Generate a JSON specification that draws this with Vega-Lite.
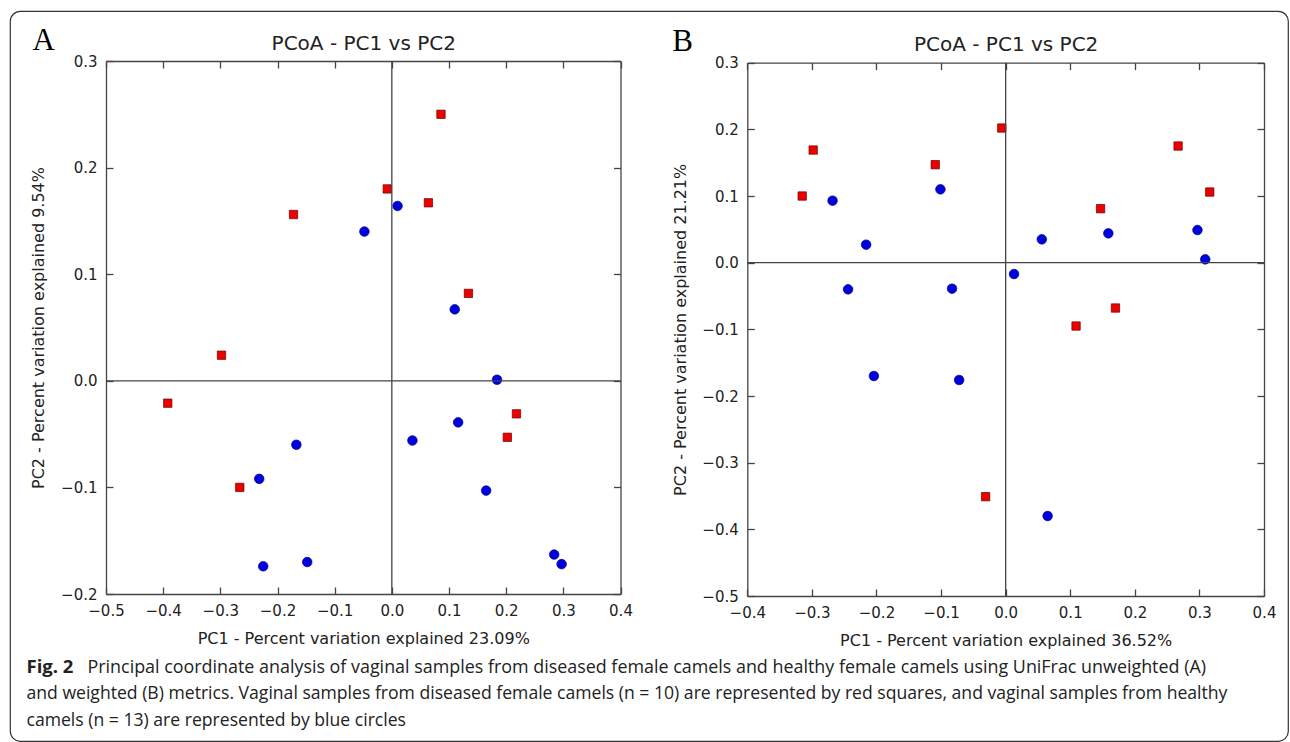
{
  "$schema": "https://vega.github.io/schema/vega-lite/v6.json",
  "width": 1278,
  "height": 730,
  "autosize": {"type": "none"},
  "padding": {"left": 10, "top": 11, "right": 2, "bottom": 1},
  "background": "white",
  "config": {
    "view": {"stroke": "#333", "strokeWidth": 1.2, "cornerRadius": 10},
    "axis": {
      "grid": false, "domainColor": "#444", "domainWidth": 1.3, "tickColor": "#444", "tickWidth": 1.3, "tickSize": -7,
      "labelFont": "DejaVu Sans", "labelFontSize": 15, "labelColor": "#222", "labelFlush": false, "labelOverlap": false,
      "titleFont": "DejaVu Sans", "titleFontSize": 16, "titleFontWeight": "normal", "titleColor": "#222", "titleLimit": 1400
    }
  },
  "datasets": {
    "A": [
      {"pc1": 0.086, "pc2": 0.250, "group": "diseased"},
      {"pc1": -0.008, "pc2": 0.180, "group": "diseased"},
      {"pc1": 0.064, "pc2": 0.167, "group": "diseased"},
      {"pc1": -0.172, "pc2": 0.156, "group": "diseased"},
      {"pc1": 0.134, "pc2": 0.082, "group": "diseased"},
      {"pc1": -0.298, "pc2": 0.024, "group": "diseased"},
      {"pc1": -0.392, "pc2": -0.021, "group": "diseased"},
      {"pc1": -0.266, "pc2": -0.100, "group": "diseased"},
      {"pc1": 0.218, "pc2": -0.031, "group": "diseased"},
      {"pc1": 0.202, "pc2": -0.053, "group": "diseased"},
      {"pc1": 0.010, "pc2": 0.164, "group": "healthy"},
      {"pc1": -0.048, "pc2": 0.140, "group": "healthy"},
      {"pc1": 0.110, "pc2": 0.067, "group": "healthy"},
      {"pc1": 0.184, "pc2": 0.001, "group": "healthy"},
      {"pc1": 0.116, "pc2": -0.039, "group": "healthy"},
      {"pc1": 0.036, "pc2": -0.056, "group": "healthy"},
      {"pc1": -0.167, "pc2": -0.060, "group": "healthy"},
      {"pc1": -0.232, "pc2": -0.092, "group": "healthy"},
      {"pc1": 0.165, "pc2": -0.103, "group": "healthy"},
      {"pc1": -0.225, "pc2": -0.174, "group": "healthy"},
      {"pc1": -0.148, "pc2": -0.170, "group": "healthy"},
      {"pc1": 0.284, "pc2": -0.163, "group": "healthy"},
      {"pc1": 0.297, "pc2": -0.172, "group": "healthy"}
    ],
    "B": [
      {"pc1": -0.006, "pc2": 0.202, "group": "diseased"},
      {"pc1": -0.298, "pc2": 0.169, "group": "diseased"},
      {"pc1": -0.315, "pc2": 0.100, "group": "diseased"},
      {"pc1": -0.109, "pc2": 0.147, "group": "diseased"},
      {"pc1": 0.267, "pc2": 0.175, "group": "diseased"},
      {"pc1": 0.316, "pc2": 0.106, "group": "diseased"},
      {"pc1": 0.147, "pc2": 0.081, "group": "diseased"},
      {"pc1": 0.170, "pc2": -0.068, "group": "diseased"},
      {"pc1": 0.109, "pc2": -0.095, "group": "diseased"},
      {"pc1": -0.031, "pc2": -0.351, "group": "diseased"},
      {"pc1": -0.268, "pc2": 0.093, "group": "healthy"},
      {"pc1": -0.216, "pc2": 0.027, "group": "healthy"},
      {"pc1": -0.244, "pc2": -0.040, "group": "healthy"},
      {"pc1": -0.101, "pc2": 0.110, "group": "healthy"},
      {"pc1": -0.083, "pc2": -0.039, "group": "healthy"},
      {"pc1": 0.013, "pc2": -0.017, "group": "healthy"},
      {"pc1": 0.056, "pc2": 0.035, "group": "healthy"},
      {"pc1": 0.159, "pc2": 0.044, "group": "healthy"},
      {"pc1": 0.297, "pc2": 0.049, "group": "healthy"},
      {"pc1": 0.309, "pc2": 0.005, "group": "healthy"},
      {"pc1": -0.204, "pc2": -0.170, "group": "healthy"},
      {"pc1": -0.072, "pc2": -0.176, "group": "healthy"},
      {"pc1": 0.065, "pc2": -0.380, "group": "healthy"}
    ]
  },
  "layer": [
    {
      "data": {"name": "A"},
      "layer": [
        {
          "mark": {"type": "point", "filled": true, "strokeWidth": 0.7, "opacity": 1},
          "encoding": {
            "x": {"field": "pc1", "type": "quantitative",
              "scale": {"domain": [-0.5, 0.4], "range": [96, 610.5], "nice": false, "zero": false},
              "axis": {"orient": "bottom", "offset": -147, "values": [-0.5, -0.4, -0.3, -0.2, -0.1, 0, 0.1, 0.2, 0.3, 0.4], "format": ".1f", "labelPadding": 16.6,
                "title": "PC1 - Percent variation explained 23.09%", "titleX": 353.25, "titleY": 49.5, "titleBaseline": "alphabetic"}},
            "y": {"field": "pc2", "type": "quantitative",
              "scale": {"domain": [-0.2, 0.3], "range": [583, 50], "nice": false, "zero": false},
              "axis": {"orient": "left", "offset": -96, "values": [-0.2, -0.1, 0, 0.1, 0.2, 0.3], "format": ".1f", "labelPadding": 16,
                "title": "PC2 - Percent variation explained 9.54%", "titleX": -62.5, "titleY": 316.5, "titleAngle": 270, "titleBaseline": "alphabetic"}},
            "shape": {"field": "group", "type": "nominal", "scale": {"domain": ["diseased", "healthy"], "range": ["square", "circle"]}, "legend": null},
            "fill": {"field": "group", "type": "nominal", "scale": {"domain": ["diseased", "healthy"], "range": ["#ee0000", "#0000dd"]}, "legend": null},
            "stroke": {"field": "group", "type": "nominal", "scale": {"domain": ["diseased", "healthy"], "range": ["#660000", "#000090"]}, "legend": null},
            "size": {"field": "group", "type": "nominal", "scale": {"domain": ["diseased", "healthy"], "range": [70, 92]}, "legend": null}
          }
        },
        {
          "data": {"values": [{}]},
          "mark": {"type": "rule", "color": "#444", "strokeWidth": 1.3},
          "encoding": {
            "x": {"datum": 0, "type": "quantitative",
              "axis": {"orient": "top", "offset": -50, "values": [-0.5, -0.4, -0.3, -0.2, -0.1, 0, 0.1, 0.2, 0.3, 0.4], "labels": false,
                "title": "PCoA - PC1 vs PC2", "titleFontSize": 20, "titleX": 353.25, "titleY": -12, "titleBaseline": "alphabetic"}},
            "y": {"datum": -0.2, "type": "quantitative",
              "axis": {"orient": "right", "offset": -667.5, "values": [-0.2, -0.1, 0, 0.1, 0.2, 0.3], "labels": false,
                "title": "A", "titleFont": "Liberation Serif", "titleFontSize": 31, "titleColor": "#000", "titleAngle": 0, "titleAlign": "left",
                "titleBaseline": "alphabetic", "titleX": -588.5, "titleY": 38}},
            "y2": {"datum": 0.3}
          }
        },
        {
          "data": {"values": [{}]},
          "mark": {"type": "rule", "color": "#444", "strokeWidth": 1.3},
          "encoding": {
            "y": {"datum": 0, "type": "quantitative",
              "axis": {"orient": "left", "offset": 0, "domain": false, "ticks": false, "labels": false,
                "title": "Fig. 2", "titleFont": "Open Sans", "titleFontSize": 18.5, "titleFontWeight": "bold", "titleColor": "#222",
                "titleAngle": 0, "titleAlign": "left", "titleBaseline": "alphabetic", "titleX": 16, "titleY": 661}},
            "x": {"datum": -0.5, "type": "quantitative",
              "axis": {"orient": "bottom", "offset": 0, "domain": false, "ticks": false, "labels": false,
                "title": "Principal coordinate analysis of vaginal samples from diseased female camels and healthy female camels using UniFrac unweighted (A)",
                "titleFont": "Open Sans", "titleFontSize": 17.9, "titleColor": "#222",
                "titleAlign": "left", "titleBaseline": "alphabetic", "titleX": 77, "titleY": -69}},
            "x2": {"datum": 0.4}
          }
        }
      ],
      "resolve": {"axis": {"x": "independent", "y": "independent"}}
    },
    {
      "data": {"name": "B"},
      "layer": [
        {
          "mark": {"type": "point", "filled": true, "strokeWidth": 0.7, "opacity": 1},
          "encoding": {
            "x": {"field": "pc1", "type": "quantitative",
              "scale": {"domain": [-0.4, 0.4], "range": [737.3, 1254], "nice": false, "zero": false},
              "axis": {"orient": "bottom", "offset": -145, "values": [-0.4, -0.3, -0.2, -0.1, 0, 0.1, 0.2, 0.3, 0.4], "format": ".1f", "labelPadding": 16.6,
                "title": "PC1 - Percent variation explained 36.52%", "titleX": 995.65, "titleY": 49, "titleBaseline": "alphabetic"}},
            "y": {"field": "pc2", "type": "quantitative",
              "scale": {"domain": [-0.5, 0.3], "range": [585, 51.7], "nice": false, "zero": false},
              "axis": {"orient": "left", "offset": -737.3, "values": [-0.5, -0.4, -0.3, -0.2, -0.1, 0, 0.1, 0.2, 0.3], "format": ".1f", "labelPadding": 16,
                "title": "PC2 - Percent variation explained 21.21%", "titleX": -62.3, "titleY": 318.35, "titleAngle": 270, "titleBaseline": "alphabetic"}},
            "shape": {"field": "group", "type": "nominal", "scale": {"domain": ["diseased", "healthy"], "range": ["square", "circle"]}, "legend": null},
            "fill": {"field": "group", "type": "nominal", "scale": {"domain": ["diseased", "healthy"], "range": ["#ee0000", "#0000dd"]}, "legend": null},
            "stroke": {"field": "group", "type": "nominal", "scale": {"domain": ["diseased", "healthy"], "range": ["#660000", "#000090"]}, "legend": null},
            "size": {"field": "group", "type": "nominal", "scale": {"domain": ["diseased", "healthy"], "range": [70, 92]}, "legend": null}
          }
        },
        {
          "data": {"values": [{}]},
          "mark": {"type": "rule", "color": "#444", "strokeWidth": 1.3},
          "encoding": {
            "x": {"datum": 0, "type": "quantitative",
              "axis": {"orient": "top", "offset": -51.7, "values": [-0.4, -0.3, -0.2, -0.1, 0, 0.1, 0.2, 0.3, 0.4], "labels": false,
                "title": "PCoA - PC1 vs PC2", "titleFontSize": 20, "titleX": 995.65, "titleY": -12.7, "titleBaseline": "alphabetic"}},
            "y": {"datum": -0.5, "type": "quantitative",
              "axis": {"orient": "right", "offset": -24, "values": [-0.5, -0.4, -0.3, -0.2, -0.1, 0, 0.1, 0.2, 0.3], "labels": false,
                "title": "B", "titleFont": "Liberation Serif", "titleFontSize": 31, "titleColor": "#000", "titleAngle": 0, "titleAlign": "left",
                "titleBaseline": "alphabetic", "titleX": -592.3, "titleY": 39}},
            "y2": {"datum": 0.3}
          }
        },
        {
          "data": {"values": [{}]},
          "mark": {"type": "rule", "color": "#444", "strokeWidth": 1.3},
          "encoding": {
            "y": {"datum": 0, "type": "quantitative",
              "axis": {"orient": "left", "offset": 0, "domain": false, "ticks": false, "labels": false,
                "title": "camels (n = 13) are represented by blue circles",
                "titleFont": "Open Sans", "titleFontSize": 17.6, "titleColor": "#222",
                "titleAngle": 0, "titleAlign": "left", "titleBaseline": "alphabetic", "titleX": 16, "titleY": 714}},
            "x": {"datum": -0.4, "type": "quantitative",
              "axis": {"orient": "bottom", "offset": 0, "domain": false, "ticks": false, "labels": false,
                "title": "and weighted (B) metrics. Vaginal samples from diseased female camels (n = 10) are represented by red squares, and vaginal samples from healthy",
                "titleFont": "Open Sans", "titleFontSize": 17.6, "titleColor": "#222",
                "titleAlign": "left", "titleBaseline": "alphabetic", "titleX": 16, "titleY": -42.5}},
            "x2": {"datum": 0.4}
          }
        }
      ],
      "resolve": {"axis": {"x": "independent", "y": "independent"}}
    }
  ],
  "resolve": {"scale": {"x": "independent", "y": "independent"}}
}
